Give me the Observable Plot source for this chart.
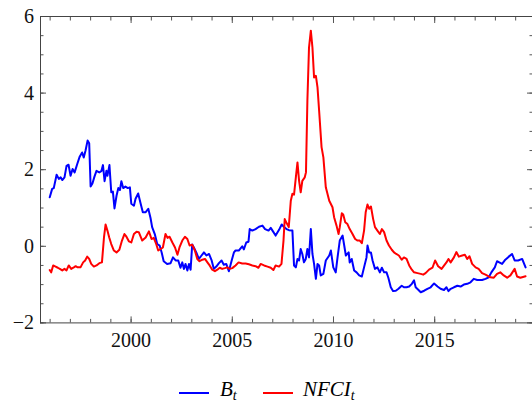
<!DOCTYPE html>
<html>
<head>
<meta charset="utf-8">
<script src="https://cdn.jsdelivr.net/npm/d3@7"></script>
<script src="https://cdn.jsdelivr.net/npm/@observablehq/plot@0.6"></script>
<style>
  html, body { margin: 0; padding: 0; background: #fff; }
  #wrap { position: relative; width: 532px; height: 405px; overflow: hidden; font-family: 'Liberation Serif', 'Times New Roman', serif; }
  #chart svg text { font-family: 'Liberation Serif', 'Times New Roman', serif !important; font-variant-numeric: normal !important; }
  #legend { position: absolute; left: 0; top: 360px; width: 532px; height: 45px; }
  .sw { position: absolute; height: 2px; width: 30px; top: 32px; }
  .lab { position: absolute; top: 19px; font-size: 21px; line-height: 21px; font-style: italic; color: #000; white-space: nowrap; }
  .lab sub { font-size: 14px; vertical-align: -4px; line-height: 0; }
</style>
</head>
<body>
<div id="wrap">
  <div id="chart"></div>
  <div id="legend"></div>
</div>
<script>
// ---- data (decimal year, value) ----
const bYears = [1995.98,1996.10,1996.18,1996.32,1996.43,1996.52,1996.60,1996.71,1996.81,1996.91,1997.01,1997.11,1997.21,1997.34,1997.46,1997.58,1997.66,1997.75,1997.85,1997.93,1998.00,1998.09,1998.19,1998.29,1998.43,1998.53,1998.61,1998.69,1998.78,1998.83,1998.93,1999.02,1999.10,1999.18,1999.28,1999.37,1999.45,1999.52,1999.61,1999.72,1999.84,1999.94,2000.01,2000.14,2000.22,2000.35,2000.47,2000.58,2000.72,2000.85,2000.96,2001.04,2001.17,2001.29,2001.41,2001.51,2001.61,2001.78,2001.95,2002.07,2002.20,2002.33,2002.44,2002.53,2002.61,2002.69,2002.78,2002.86,2002.94,2003.02,2003.10,2003.22,2003.35,2003.48,2003.60,2003.72,2003.85,2003.98,2004.09,2004.21,2004.34,2004.47,2004.58,2004.70,2004.83,2004.97,2005.08,2005.16,2005.32,2005.49,2005.57,2005.69,2005.80,2005.86,2005.99,2006.15,2006.32,2006.49,2006.62,2006.79,2006.90,2007.01,2007.14,2007.31,2007.44,2007.56,2007.68,2007.80,2007.97,2008.05,2008.14,2008.22,2008.30,2008.38,2008.46,2008.54,2008.63,2008.71,2008.79,2008.88,2008.96,2009.04,2009.13,2009.21,2009.29,2009.37,2009.50,2009.62,2009.79,2009.87,2009.99,2010.11,2010.20,2010.31,2010.45,2010.53,2010.61,2010.75,2010.80,2010.90,2011.02,2011.14,2011.27,2011.40,2011.51,2011.63,2011.68,2011.76,2011.85,2011.93,2012.05,2012.17,2012.29,2012.39,2012.50,2012.62,2012.71,2012.83,2012.94,2013.08,2013.21,2013.37,2013.48,2013.61,2013.74,2013.87,2013.98,2014.06,2014.20,2014.31,2014.48,2014.64,2014.80,2014.97,2015.14,2015.29,2015.46,2015.58,2015.68,2015.79,2015.95,2016.12,2016.28,2016.44,2016.61,2016.77,2016.93,2017.10,2017.34,2017.51,2017.67,2017.80,2017.97,2018.08,2018.19,2018.33,2018.49,2018.66,2018.82,2018.95,2019.12,2019.32,2019.49];
const bValues = [1.28,1.50,1.52,1.87,1.76,1.80,1.73,1.80,2.10,2.13,1.84,2.02,1.93,2.15,2.34,2.45,2.32,2.50,2.76,2.69,1.56,1.64,1.82,1.97,1.93,1.96,2.12,1.70,1.97,1.84,2.12,1.41,1.43,0.99,1.32,1.52,1.47,1.70,1.52,1.56,1.52,1.54,1.11,1.06,1.24,1.38,1.12,0.89,0.89,0.98,0.74,0.50,0.32,0.06,0.02,-0.16,-0.39,-0.46,-0.44,-0.29,-0.37,-0.37,-0.56,-0.42,-0.59,-0.46,-0.63,-0.46,-0.61,0.05,-0.03,-0.16,-0.33,-0.24,-0.16,-0.24,-0.20,-0.37,-0.59,-0.53,-0.44,-0.37,-0.48,-0.46,-0.65,-0.37,-0.16,-0.11,-0.11,0.00,-0.08,0.10,0.12,0.45,0.41,0.45,0.51,0.54,0.45,0.41,0.48,0.39,0.28,0.43,0.57,0.50,0.45,0.42,0.41,-0.50,-0.55,-0.33,-0.37,-0.07,-0.20,-0.42,-0.33,-0.07,-0.29,0.45,-0.20,-0.46,-0.85,-0.46,-0.50,-0.76,-0.72,-0.37,-0.24,-0.11,-0.55,-0.68,-0.29,0.15,0.28,0.02,-0.24,-0.16,-0.42,-0.33,-0.63,-0.68,-0.76,-0.79,-0.55,-0.29,0.02,-0.16,-0.16,-0.37,-0.59,-0.55,-0.68,-0.56,-0.68,-0.68,-0.82,-1.07,-1.17,-1.16,-1.11,-1.03,-1.07,-1.07,-1.05,-0.98,-0.89,-1.07,-1.14,-1.20,-1.16,-1.11,-1.07,-0.97,-1.05,-1.11,-1.14,-1.07,-1.17,-1.11,-1.07,-1.03,-1.05,-1.00,-0.98,-0.94,-0.85,-0.88,-0.88,-0.85,-0.81,-0.68,-0.55,-0.39,-0.42,-0.46,-0.35,-0.27,-0.20,-0.37,-0.37,-0.33,-0.55];

const nYears = [1995.98,1996.05,1996.15,1996.27,1996.38,1996.48,1996.60,1996.71,1996.81,1996.92,1997.04,1997.17,1997.26,1997.36,1997.50,1997.63,1997.73,1997.83,1997.93,1998.03,1998.16,1998.29,1998.43,1998.56,1998.66,1998.74,1998.83,1998.92,1999.02,1999.15,1999.28,1999.42,1999.55,1999.67,1999.77,1999.89,2000.01,2000.14,2000.27,2000.38,2000.55,2000.72,2000.88,2001.01,2001.12,2001.24,2001.34,2001.46,2001.57,2001.70,2001.80,2001.90,2002.04,2002.17,2002.29,2002.39,2002.53,2002.66,2002.78,2002.89,2003.02,2003.15,2003.27,2003.38,2003.52,2003.65,2003.77,2003.88,2004.01,2004.14,2004.26,2004.38,2004.50,2004.63,2004.75,2004.87,2005.00,2005.16,2005.31,2005.49,2005.66,2005.82,2005.99,2006.15,2006.29,2006.40,2006.57,2006.74,2006.90,2007.03,2007.14,2007.31,2007.43,2007.53,2007.59,2007.69,2007.79,2007.89,2007.97,2008.05,2008.14,2008.22,2008.30,2008.38,2008.46,2008.58,2008.64,2008.71,2008.79,2008.88,2008.96,2009.04,2009.13,2009.21,2009.29,2009.41,2009.50,2009.62,2009.79,2009.95,2010.03,2010.15,2010.25,2010.31,2010.41,2010.48,2010.58,2010.69,2010.80,2010.94,2011.07,2011.19,2011.30,2011.40,2011.51,2011.59,2011.68,2011.76,2011.85,2011.96,2012.05,2012.17,2012.29,2012.39,2012.50,2012.62,2012.74,2012.88,2012.99,2013.10,2013.23,2013.37,2013.48,2013.61,2013.74,2013.87,2013.98,2014.15,2014.31,2014.43,2014.55,2014.72,2014.89,2015.02,2015.17,2015.34,2015.58,2015.68,2015.79,2015.95,2016.07,2016.19,2016.36,2016.49,2016.61,2016.72,2016.85,2017.02,2017.17,2017.34,2017.51,2017.75,2017.92,2018.08,2018.24,2018.41,2018.58,2018.74,2018.95,2019.07,2019.23,2019.49];
const nValues = [-0.62,-0.68,-0.50,-0.53,-0.56,-0.59,-0.63,-0.59,-0.63,-0.50,-0.59,-0.55,-0.52,-0.55,-0.55,-0.42,-0.37,-0.27,-0.33,-0.46,-0.53,-0.50,-0.44,-0.42,0.23,0.57,0.41,0.23,0.06,-0.11,-0.16,-0.09,0.15,0.32,0.25,0.13,0.10,0.32,0.38,0.37,0.15,0.23,0.39,0.19,0.22,0.06,-0.11,-0.07,-0.03,0.32,0.22,0.25,0.10,-0.03,-0.22,-0.03,0.15,0.25,0.19,0.02,0.04,-0.11,-0.33,-0.39,-0.35,-0.33,-0.42,-0.50,-0.61,-0.65,-0.61,-0.56,-0.59,-0.57,-0.55,-0.59,-0.57,-0.50,-0.42,-0.45,-0.45,-0.47,-0.50,-0.52,-0.56,-0.46,-0.50,-0.53,-0.56,-0.62,-0.50,-0.53,-0.46,0.15,0.71,0.60,0.50,1.19,1.37,1.35,1.80,2.19,1.71,1.41,1.71,1.80,1.93,3.80,5.19,5.63,5.19,4.41,4.45,4.15,3.54,2.59,2.32,1.54,1.19,1.02,0.76,0.54,0.32,0.50,0.86,0.83,0.63,0.58,0.45,0.32,0.19,0.15,0.15,0.08,0.41,0.89,1.09,0.98,1.04,0.71,0.50,0.41,0.32,0.45,0.37,0.15,0.02,-0.09,-0.16,-0.20,-0.24,-0.35,-0.29,-0.33,-0.50,-0.61,-0.68,-0.70,-0.72,-0.74,-0.70,-0.61,-0.56,-0.37,-0.52,-0.59,-0.42,-0.33,-0.42,-0.29,-0.15,-0.27,-0.24,-0.22,-0.33,-0.26,-0.46,-0.55,-0.59,-0.70,-0.74,-0.81,-0.82,-0.72,-0.68,-0.76,-0.82,-0.76,-0.59,-0.79,-0.82,-0.78];

const xLabelTicks = [2000, 2005, 2010, 2015];
const xMinorTicks = d3.range(1996, 2020);
const yLabelTicks = [-2, 0, 2, 4, 6];
const yMinorTicks = d3.range(-2, 6.01, 0.5);
const seriesNames = ["B", "NFCI"];
const seriesColors = ["#0000ff", "#ff0000"];

const bData = bYears.map((t, i) => ({year: t, value: bValues[i]}));
const nData = nYears.map((t, i) => ({year: t, value: nValues[i]}));

const font = "'Liberation Serif', 'Times New Roman', serif";
const tickStroke = "#555";

const chart = Plot.plot({
  width: 532,
  height: 360,
  marginLeft: 40,
  marginRight: 0,
  marginTop: 16,
  marginBottom: 37.6,
  style: {fontFamily: font, fontSize: "20px", background: "#fff", overflow: "visible"},
  x: {domain: [1995.524, 2019.832]},
  y: {domain: [-2, 6]},
  marks: [
    Plot.line(bData, {x: "year", y: "value", stroke: seriesColors[0], strokeWidth: 2}),
    Plot.line(nData, {x: "year", y: "value", stroke: seriesColors[1], strokeWidth: 2}),
    // inward ticks
    Plot.axisX({ticks: xMinorTicks, anchor: "bottom", tickSize: -3.5, tickFormat: () => "", stroke: tickStroke, label: null}),
    Plot.axisX({ticks: xMinorTicks, anchor: "top", tickSize: -3.5, tickFormat: () => "", stroke: tickStroke, label: null}),
    Plot.axisX({ticks: xLabelTicks, anchor: "bottom", tickSize: -6, tickFormat: () => "", stroke: tickStroke, label: null}),
    Plot.axisX({ticks: xLabelTicks, anchor: "top", tickSize: -6, tickFormat: () => "", stroke: tickStroke, label: null}),
    Plot.axisY({ticks: yMinorTicks, anchor: "left", tickSize: -3.5, tickFormat: () => "", stroke: tickStroke, label: null}),
    Plot.axisY({ticks: yMinorTicks, anchor: "right", tickSize: -3.5, tickFormat: () => "", stroke: tickStroke, label: null}),
    Plot.axisY({ticks: yLabelTicks, anchor: "left", tickSize: -6, tickFormat: () => "", stroke: tickStroke, label: null}),
    Plot.axisY({ticks: yLabelTicks, anchor: "right", tickSize: -6, tickFormat: () => "", stroke: tickStroke, label: null}),
    // labels
    Plot.axisX({ticks: xLabelTicks, anchor: "bottom", tickSize: 0, tickPadding: 10, tickFormat: d => String(d), fontSize: 20, fontFamily: font, fontVariant: "normal", fill: "#111", label: null}),
    Plot.axisY({ticks: yLabelTicks, anchor: "left", tickSize: 0, tickPadding: 6.5, tickFormat: d => d < 0 ? "\u2212" + Math.abs(d) : String(d), fontSize: 20, fontFamily: font, fontVariant: "normal", fill: "#111", label: null}),
    Plot.frame({stroke: "#444", strokeWidth: 1})
  ]
});
document.getElementById("chart").appendChild(chart);

// legend
const legend = document.getElementById("legend");
const legendPos = [{sw: 179, lab: 220}, {sw: 263, lab: 303}];
seriesNames.forEach((name, i) => {
  const sw = document.createElement("div");
  sw.className = "sw";
  sw.style.left = legendPos[i].sw + "px";
  sw.style.background = seriesColors[i];
  legend.appendChild(sw);
  const lab = document.createElement("div");
  lab.className = "lab";
  lab.style.left = legendPos[i].lab + "px";
  lab.innerHTML = name + "<sub>t</sub>";
  legend.appendChild(lab);
});
</script>
</body>
</html>
